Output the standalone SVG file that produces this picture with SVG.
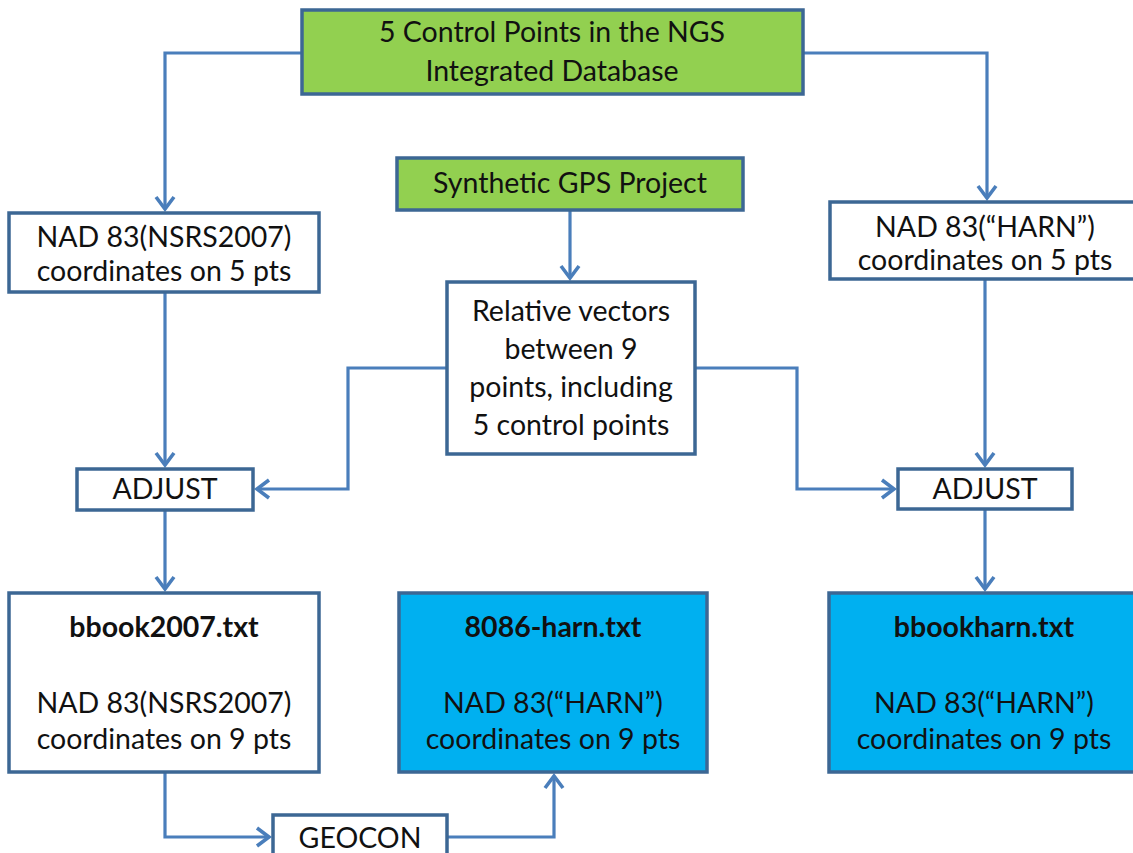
<svg xmlns="http://www.w3.org/2000/svg" width="1133" height="853" viewBox="0 0 1133 853">
<defs>
<marker id="arr" markerUnits="userSpaceOnUse" markerWidth="24" markerHeight="24" viewBox="-14 -10 16 20" refX="0" refY="0" orient="auto">
<path d="M-10,-7.5 L0,0 L-10,7.5" fill="none" stroke="#4A7EBB" stroke-width="3"/>
</marker>
<style>
.box{stroke:#3C6794;stroke-width:3.5}
.w{fill:#FFFFFF}
.g{fill:#92D050}
.b{fill:#00B0F0}
.t{font-family:Lato,"Liberation Sans",sans-serif;font-size:28.5px;fill:#111;text-anchor:middle}
.bold{font-weight:bold}
.c{fill:none;stroke:#4A7EBB;stroke-width:3.2;marker-end:url(#arr)}
</style>
</defs>
<rect width="1133" height="853" fill="#FFFFFF"/>
<g id="connectors">
<path class="c" d="M302,53 H165 V209"/>
<path class="c" d="M803,53 H987 V198"/>
<path class="c" d="M570,210 V278"/>
<path class="c" d="M447,368 H348 V489 H257"/>
<path class="c" d="M695,368 H797 V489 H894"/>
<path class="c" d="M165,292 V465"/>
<path class="c" d="M985,279 V465"/>
<path class="c" d="M165,510 V589"/>
<path class="c" d="M985,508 V589"/>
<path class="c" d="M165,772 V837 H269"/>
<path class="c" d="M447,837 H554 V776"/>
</g>
<g id="n_top">
<rect class="box g" x="302" y="10" width="501" height="84"/>
<text class="t" x="552" y="42">5 Control Points in the NGS</text>
<text class="t" x="552" y="81">Integrated Database</text>
</g>
<g id="n_synth">
<rect class="box g" x="397" y="158" width="346" height="52"/>
<text class="t" x="570" y="193">Synthetic GPS Project</text>
</g>
<g id="n_nad2007">
<rect class="box w" x="9" y="213" width="310" height="79"/>
<text class="t" x="164" y="247">NAD 83(NSRS2007)</text>
<text class="t" x="164" y="281">coordinates on 5 pts</text>
</g>
<g id="n_nadharn">
<rect class="box w" x="830" y="202" width="310" height="77"/>
<text class="t" x="985" y="237">NAD 83(“HARN”)</text>
<text class="t" x="985" y="270">coordinates on 5 pts</text>
</g>
<g id="n_rel">
<rect class="box w" x="447" y="282" width="248" height="172"/>
<text class="t" x="571" y="321">Relative vectors</text>
<text class="t" x="571" y="359">between 9</text>
<text class="t" x="571" y="397">points, including</text>
<text class="t" x="571" y="435">5 control points</text>
</g>
<g id="n_adj1">
<rect class="box w" x="77" y="469" width="176" height="41"/>
<text class="t" x="165" y="499">ADJUST</text>
</g>
<g id="n_adj2">
<rect class="box w" x="898" y="469" width="174" height="40"/>
<text class="t" x="985" y="499">ADJUST</text>
</g>
<g id="n_bbook2007">
<rect class="box w" x="9" y="593" width="310" height="179"/>
<text class="t bold" x="164" y="637">bbook2007.txt</text>
<text class="t" x="164" y="713">NAD 83(NSRS2007)</text>
<text class="t" x="164" y="749">coordinates on 9 pts</text>
</g>
<g id="n_8086">
<rect class="box b" x="399" y="593" width="308" height="179"/>
<text class="t bold" x="553" y="637">8086-harn.txt</text>
<text class="t" x="553" y="713">NAD 83(“HARN”)</text>
<text class="t" x="553" y="749">coordinates on 9 pts</text>
</g>
<g id="n_bbookharn">
<rect class="box b" x="829" y="593" width="310" height="179"/>
<text class="t bold" x="984" y="637">bbookharn.txt</text>
<text class="t" x="984" y="713">NAD 83(“HARN”)</text>
<text class="t" x="984" y="749">coordinates on 9 pts</text>
</g>
<g id="n_geocon">
<rect class="box w" x="273" y="815" width="174" height="48"/>
<text class="t" x="360" y="848">GEOCON</text>
</g>
</svg>
